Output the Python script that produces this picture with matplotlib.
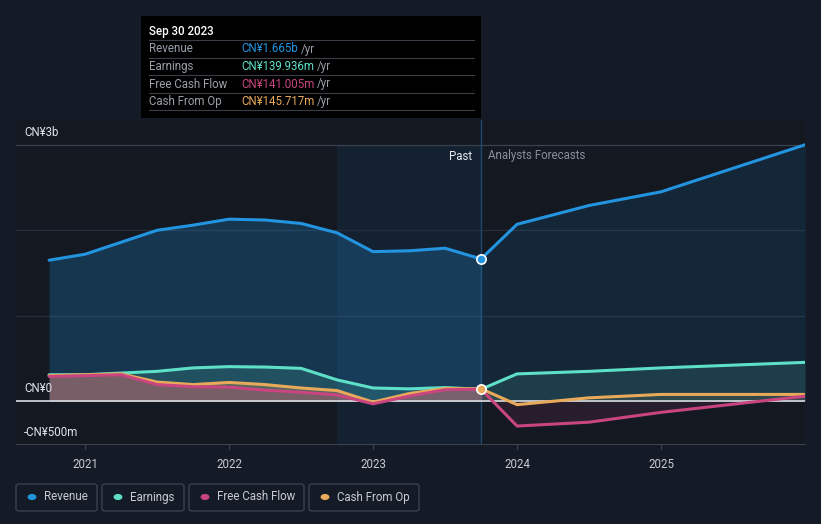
import numpy as np
import matplotlib
matplotlib.use("Agg")
import matplotlib.pyplot as plt
from matplotlib.patches import FancyBboxPatch, Rectangle

plt.rcParams['font.family'] = ['Roboto', 'DejaVu Sans']

# quarterly history (year fraction), values in CN¥ billions
t_past = [2020.75, 2021.0, 2021.25, 2021.5, 2021.75, 2022.0, 2022.25, 2022.5,
          2022.75, 2023.0, 2023.25, 2023.5, 2023.75]
rev_past = [1.65, 1.72, 1.86, 2.00, 2.06, 2.13, 2.12, 2.08, 1.97, 1.75, 1.76, 1.79, 1.665]
earn_past = [0.31, 0.31, 0.33, 0.35, 0.39, 0.405, 0.40, 0.385, 0.25, 0.155, 0.145, 0.16, 0.140]
fcf_past = [0.29, 0.30, 0.31, 0.195, 0.17, 0.165, 0.13, 0.105, 0.075, -0.03, 0.06, 0.135, 0.141]
cfo_past = [0.30, 0.31, 0.32, 0.225, 0.195, 0.22, 0.195, 0.155, 0.125, -0.01, 0.09, 0.15, 0.146]

# analyst forecasts
t_fc = [2023.75, 2024.0, 2024.5, 2025.0, 2026.0]
rev_fc = [1.665, 2.07, 2.29, 2.45, 3.0]
earn_fc = [0.140, 0.32, 0.35, 0.39, 0.455]
fcf_fc = [0.141, -0.29, -0.245, -0.13, 0.06]
cfo_fc = [0.146, -0.04, 0.04, 0.08, 0.08]

years = [2021, 2022, 2023, 2024, 2025]

BG = '#151b26'
C_REV = '#2394df'
C_EARN = '#5ee0c8'
C_FCF = '#c8457f'
C_CFO = '#e8a95a'
FS = 8.3

fig = plt.figure(figsize=(8.21, 5.24), dpi=100, facecolor=BG)
ax = fig.add_axes([16/821, (524-444)/524, (805-16)/821, (444-120)/524])
ax.set_facecolor('#131821')
ax.set_xlim(2020.52, 2026.0)
ax.set_ylim(-0.5, 3.29)

# past region shading
ax.axvspan(2022.75, 2023.75, ymax=(3.0+0.5)/3.79, color='#1a3a5c', alpha=0.28, lw=0, zorder=0)
ax.axvline(2023.75, color='#1f4a6e', lw=1, zorder=1)

# grid
for g in [1, 2]:
    ax.axhline(g, color='#262e3b', lw=0.9, zorder=0.5)
ax.axhline(3, color='#3a4250', lw=0.9, zorder=0.5)
ax.axhline(0, color='#d8dce0', lw=1.2, zorder=3)

series = [
    (rev_past, rev_fc, C_REV, 0.24, 0.12),
    (earn_past, earn_fc, C_EARN, 0.16, 0.12),
    (cfo_past, cfo_fc, C_CFO, 0.28, 0.10),
    (fcf_past, fcf_fc, C_FCF, 0.28, 0.12),
]
for vp, vf, col, ap, af in series:
    ax.fill_between(t_past, vp, 0, color=col, alpha=ap, lw=0, zorder=1)
    ax.fill_between(t_fc, vf, 0, color=col, alpha=af, lw=0, zorder=1)
for vp, vf, col, ap, af in series:
    ax.plot(t_past + t_fc[1:], vp + vf[1:], color=col, lw=2.2, zorder=4, solid_capstyle='round')

ax.scatter([2023.75], [rev_past[-1]], s=45, color=C_REV, edgecolor='white', lw=1.2, zorder=6)
ax.scatter([2023.75], [cfo_past[-1]], s=45, color=C_CFO, edgecolor='white', lw=1.2, zorder=6)

for s in ax.spines.values():
    s.set_visible(False)
ax.spines['bottom'].set_visible(True)
ax.spines['bottom'].set_color('#3a4250')
ax.set_yticks([])
ax.set_xticks(years)
ax.set_xticklabels([str(y) for y in years], color='#c8ccd2', fontsize=FS)
ax.tick_params(axis='x', length=4, color='#3a4250', pad=6)

# y labels
ax.text(24/821, (524-132)/524, 'CN¥3b', transform=fig.transFigure, color='#e0e3e8', fontsize=FS, va='center')
ax.text(24/821, (524-389)/524, 'CN¥0', transform=fig.transFigure, color='#e0e3e8', fontsize=FS, va='center')
ax.text(24/821, (524-432)/524, '-CN¥500m', transform=fig.transFigure, color='#e0e3e8', fontsize=FS, va='center')

fig.text(472/821, (524-156)/524, 'Past', color='#e8eaee', fontsize=FS, ha='right', va='center')
fig.text(488/821, (524-156)/524, 'Analysts Forecasts', color='#8a9099', fontsize=FS, ha='left', va='center')

# tooltip
fig.patches.append(Rectangle((141/821, (524-118)/524), 340/821, 102/524, transform=fig.transFigure,
                             facecolor='black', edgecolor='none', zorder=10))
fig.text(149/821, (524-31)/524, 'Sep 30 2023', color='white', fontsize=FS, fontweight='medium',
         va='center', zorder=11)
rows = [('Revenue', 'CN¥1.665b', C_REV), ('Earnings', 'CN¥139.936m', C_EARN),
        ('Free Cash Flow', 'CN¥141.005m', C_FCF), ('Cash From Op', 'CN¥145.717m', C_CFO)]
for i, (lab, val, col) in enumerate(rows):
    y = 49 + i * 17.5
    fig.lines.append(plt.Line2D([149/821, 474/821], [(524-(y-9))/524]*2, transform=fig.transFigure,
                                color='#3a3f47', lw=0.8, zorder=11))
    fig.text(149/821, (524-y)/524, lab, color='#9aa0a8', fontsize=FS, va='center', zorder=11)
    t = fig.text(241/821, (524-y)/524, val, color=col, fontsize=FS, va='center', zorder=11)
    fig.canvas.draw()
    bb = t.get_window_extent()
    fig.text(bb.x1/821 + 3/821, (524-y)/524, '/yr', color='#9aa0a8', fontsize=FS, va='center', zorder=11)
fig.lines.append(plt.Line2D([149/821, 474/821], [(524-(49+4*17.5-9))/524]*2, transform=fig.transFigure,
                            color='#3a3f47', lw=0.8, zorder=11))

# legend buttons
legend = [('Revenue', C_REV, 16, 97), ('Earnings', C_EARN, 102, 184),
          ('Free Cash Flow', C_FCF, 189, 304), ('Cash From Op', C_CFO, 309, 419)]
for lab, col, x0, x1 in legend:
    fig.patches.append(FancyBboxPatch((x0/821, (524-511)/524), (x1-x0)/821, 27/524,
                                      boxstyle='round,pad=0,rounding_size=0.004', transform=fig.transFigure,
                                      facecolor='none', edgecolor='#3a404c', lw=1))
    fig.patches.append(plt.Circle(((x0+16)/821, (524-497)/524), 0.0045, transform=fig.transFigure,
                                  color=col))
    fig.text((x0+28)/821, (524-497)/524, lab, color='#c8ccd2', fontsize=FS, va='center')

fig.savefig('out.png', dpi=100, facecolor=BG)
